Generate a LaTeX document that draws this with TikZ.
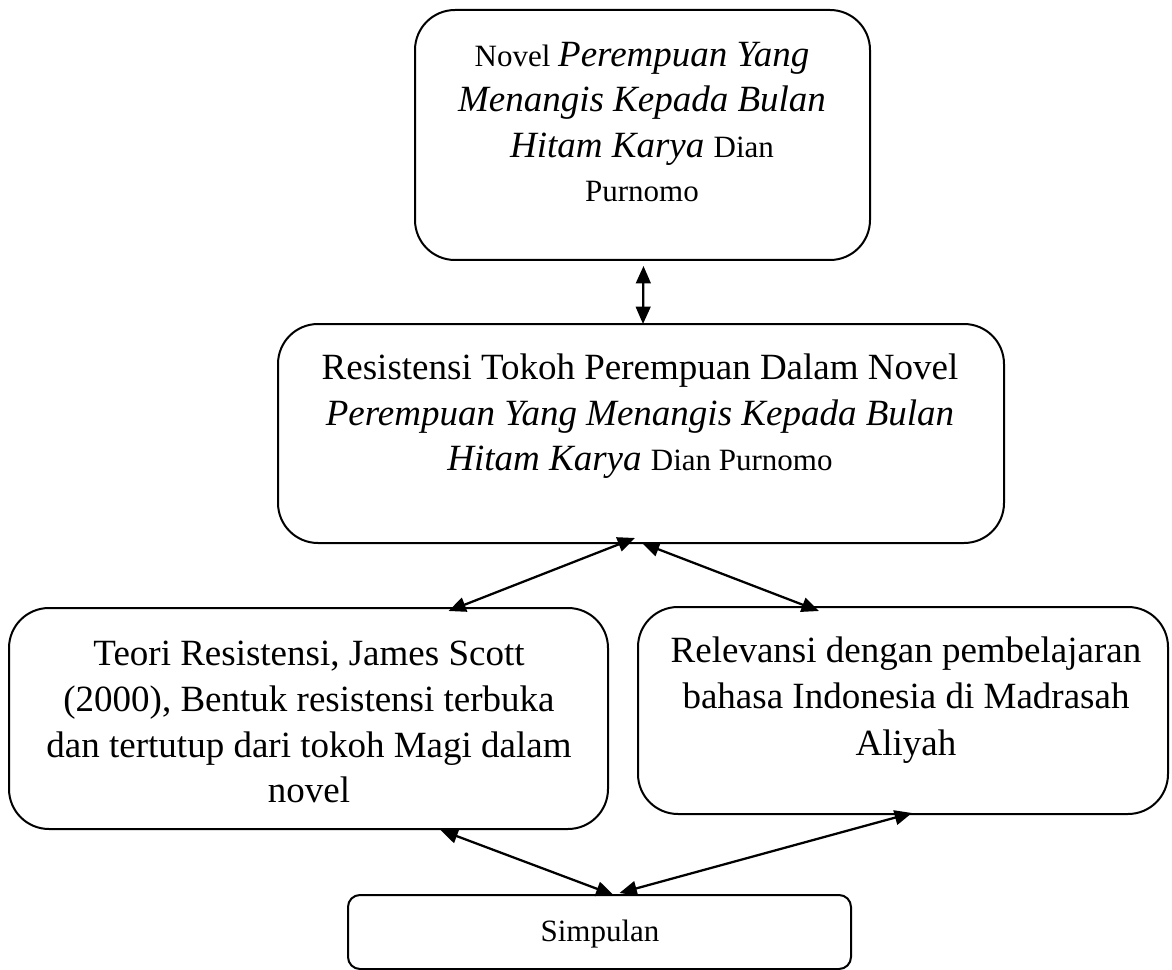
\documentclass[tikz,border=0pt]{standalone}
\usepackage{fontspec}
\setmainfont{Liberation Serif}
\usetikzlibrary{arrows.meta,fit,calc}
\newcommand{\lgf}{\fontsize{27.75}{33.75}\selectfont}
\newcommand{\smf}{\fontsize{23.25}{33.75}\selectfont}
\begin{document}
\begin{tikzpicture}[x=0.75pt,y=-0.75pt,
  boxst/.style={draw, line width=1.5pt, inner sep=0pt, outer sep=0pt},
  txt/.style={anchor=base, inner sep=0pt},
  conn/.style={line width=1.7pt, {Triangle[length=13pt,width=11pt]}-{Triangle[length=13pt,width=11pt]}}]
\useasboundingbox (0,0) rectangle (1172,970);

% boxes
\node[boxst, rounded corners=30pt, fit={(415,10) (870,260)}] (top) {};
\node[boxst, rounded corners=30pt, fit={(278,324) (1004,543)}] (mid) {};
\node[boxst, rounded corners=30pt, fit={(9,608) (608,829)}] (left) {};
\node[boxst, rounded corners=30pt, fit={(638,607) (1168,814)}] (right) {};
\node[boxst, rounded corners=9pt, fit={(348,895) (851,969)}] (simp) {};

% top box text
\node[txt] (t1) at (642,67) {\smf Novel \lgf\itshape Perempuan Yang};
\node[txt] (t2) at (642,112) {\lgf\itshape Menangis Kepada Bulan};
\node[txt] (t3) at (642,158) {{\lgf\itshape Hitam Karya }\smf Dian};
\node[txt] (t4) at (642,202) {\smf Purnomo};

% middle box text
\node[txt] (m1) at (640,379) {\lgf Resistensi Tokoh Perempuan Dalam Novel};
\node[txt] (m2) at (640,425) {\lgf\itshape Perempuan Yang Menangis Kepada Bulan};
\node[txt] (m3) at (640,470) {{\lgf\itshape Hitam Karya }\smf Dian Purnomo};

% left box text
\node[txt] (l1) at (309,665) {\lgf Teori Resistensi, James Scott};
\node[txt] (l2) at (309,711) {\lgf (2000), Bentuk resistensi terbuka};
\node[txt] (l3) at (309,757) {\lgf dan tertutup dari tokoh Magi dalam};
\node[txt] (l4) at (309,802) {\lgf novel};

% right box text
\node[txt] (r1) at (906,662) {\lgf Relevansi dengan pembelajaran};
\node[txt] (r2) at (906,708) {\lgf bahasa Indonesia di Madrasah};
\node[txt] (r3) at (906,755) {\lgf Aliyah};

% simpulan text
\node[txt] (s1) at (600,941) {\smf Simpulan};

% connectors
\draw[conn] ($(top.south)+(1,6)$) -- ($(mid.north)+(2,0)$);
\draw[conn] ($(mid.south)+(-6,-5)$) -- ($(left.north)+(140,3)$);
\draw[conn] ($(mid.south)+(1,0)$) -- ($(right.north)+(-84,4)$);
\draw[conn] ($(left.south)+(132,1)$) -- ($(simp.north)+(14,0)$);
\draw[conn] ($(right.south)+(9,-1)$) -- ($(simp.north)+(20,-2)$);
\end{tikzpicture}
\end{document}
